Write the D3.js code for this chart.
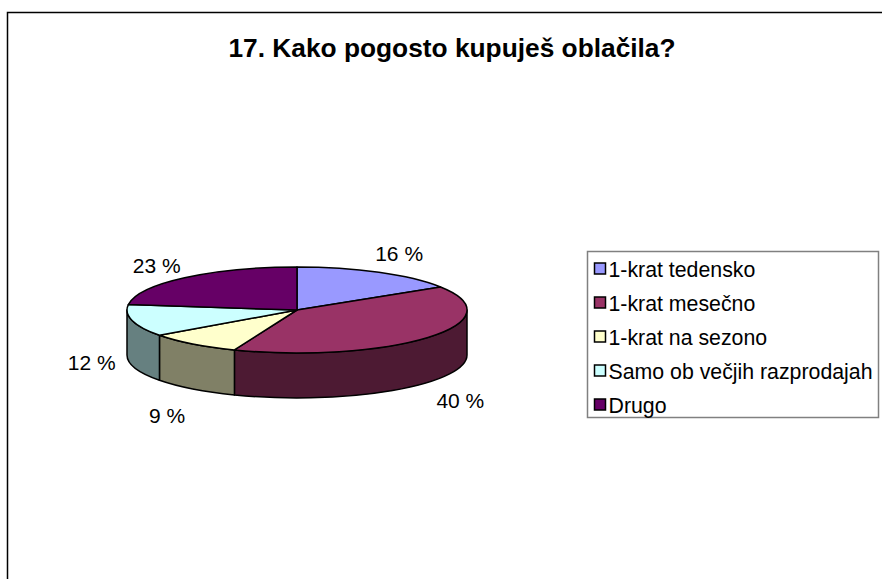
<!DOCTYPE html>
<html>
<head>
<meta charset="utf-8">
<script src="https://cdn.jsdelivr.net/npm/d3@7"></script>
<style>
  body { margin: 0; background: #fff; }
  svg text { font-family: Arial, "Liberation Sans", sans-serif; fill: #000; }
</style>
</head>
<body>
<svg id="chart" width="882" height="579"></svg>
<script>
// data
var categories = ["1-krat tedensko", "1-krat mesečno", "1-krat na sezono", "Samo ob večjih razprodajah", "Drugo"]
var values = [16, 40, 9, 12, 23]
var labels = ["16 %", "40 %", "9 %", "12 %", "23 %"]
var topColors = ["#9999FF", "#993366", "#FFFFCC", "#CCFFFF", "#660066"]
var sideColors = ["#4C4C80", "#4D1A33", "#808066", "#668080", "#330033"]

var svg = d3.select("#chart")

// outer chart frame
svg.append("rect")
	.attr("x", 7.5).attr("y", 12.5)
	.attr("width", 900).attr("height", 600)
	.attr("fill", "#fff")
	.attr("stroke", "#000")
	.attr("stroke-width", 1.5)

svg.append("text")
	.attr("x", 452).attr("y", 57)
	.attr("text-anchor", "middle")
	.style("font-size", "26.3px")
	.style("font-weight", "bold")
	.text("17. Kako pogosto kupuješ oblačila?")

// pie geometry
var cx = 297, cy = 310, rx = 170, ry = 43, depth = 45

var pie = d3.pie().sort(null).value(function(d) { return d; })
var slices = pie(values)

function pt(a, dy) {
	return [cx + rx * Math.sin(a), cy - ry * Math.cos(a) + (dy || 0)]
}

function topPath(d) {
	var p0 = pt(d.startAngle), p1 = pt(d.endAngle)
	var large = (d.endAngle - d.startAngle) > Math.PI ? 1 : 0
	return "M" + cx + "," + cy + "L" + p0 + "A" + rx + "," + ry + " 0 " + large + " 1 " + p1 + "Z"
}

function sidePath(d) {
	var s = Math.max(d.startAngle, Math.PI / 2)
	var e = Math.min(d.endAngle, Math.PI * 1.5)
	if (e <= s) return null
	var a0 = pt(s), a1 = pt(e), b0 = pt(s, depth), b1 = pt(e, depth)
	return "M" + a0 + "A" + rx + "," + ry + " 0 0 1 " + a1 +
		"L" + b1 + "A" + rx + "," + ry + " 0 0 0 " + b0 + "Z"
}

var g = svg.append("g")

g.selectAll(".side")
	.data(slices.filter(function(d) { return sidePath(d) != null }))
	.enter().append("path")
	.attr("class", "side")
	.attr("d", sidePath)
	.attr("fill", function(d) { return sideColors[d.index] })
	.attr("stroke", "#000")
	.attr("stroke-width", 1.5)
	.attr("stroke-linejoin", "round")

g.selectAll(".top")
	.data(slices)
	.enter().append("path")
	.attr("class", "top")
	.attr("d", topPath)
	.attr("fill", function(d) { return topColors[d.index] })
	.attr("stroke", "#000")
	.attr("stroke-width", 1.5)
	.attr("stroke-linejoin", "round")

// data labels around the pie
var lx = 212, ly = 97
g.selectAll(".lbl")
	.data(slices)
	.enter().append("text")
	.attr("class", "lbl")
	.attr("x", function(d) { return cx + lx * Math.sin((d.startAngle + d.endAngle) / 2) })
	.attr("y", function(d) {
		var m = (d.startAngle + d.endAngle) / 2
		return cy + depth / 2 + 6 - ly * Math.cos(m)
	})
	.attr("text-anchor", "middle")
	.attr("dominant-baseline", "central")
	.style("font-size", "21px")
	.text(function(d) { return labels[d.index] })

// legend
var legend = svg.append("g").attr("transform", "translate(587.5,251.5)")
legend.append("rect")
	.attr("width", 291).attr("height", 166)
	.attr("fill", "#fff")
	.attr("stroke", "#808080")
	.attr("stroke-width", 1.5)

var rowY = d3.scalePoint().domain(categories).range([17, 153])

var item = legend.selectAll(".item")
	.data(categories)
	.enter().append("g")
	.attr("class", "item")
	.attr("transform", function(d) { return "translate(0," + rowY(d) + ")" })

item.append("rect")
	.attr("x", 7).attr("y", -5.5)
	.attr("width", 11).attr("height", 11)
	.attr("fill", function(d, i) { return topColors[i] })
	.attr("stroke", "#000")
	.attr("stroke-width", 1.5)

item.append("text")
	.attr("x", 21).attr("y", 1)
	.attr("dominant-baseline", "central")
	.style("font-size", "21.3px")
	.text(function(d) { return d })
</script>
</body>
</html>
